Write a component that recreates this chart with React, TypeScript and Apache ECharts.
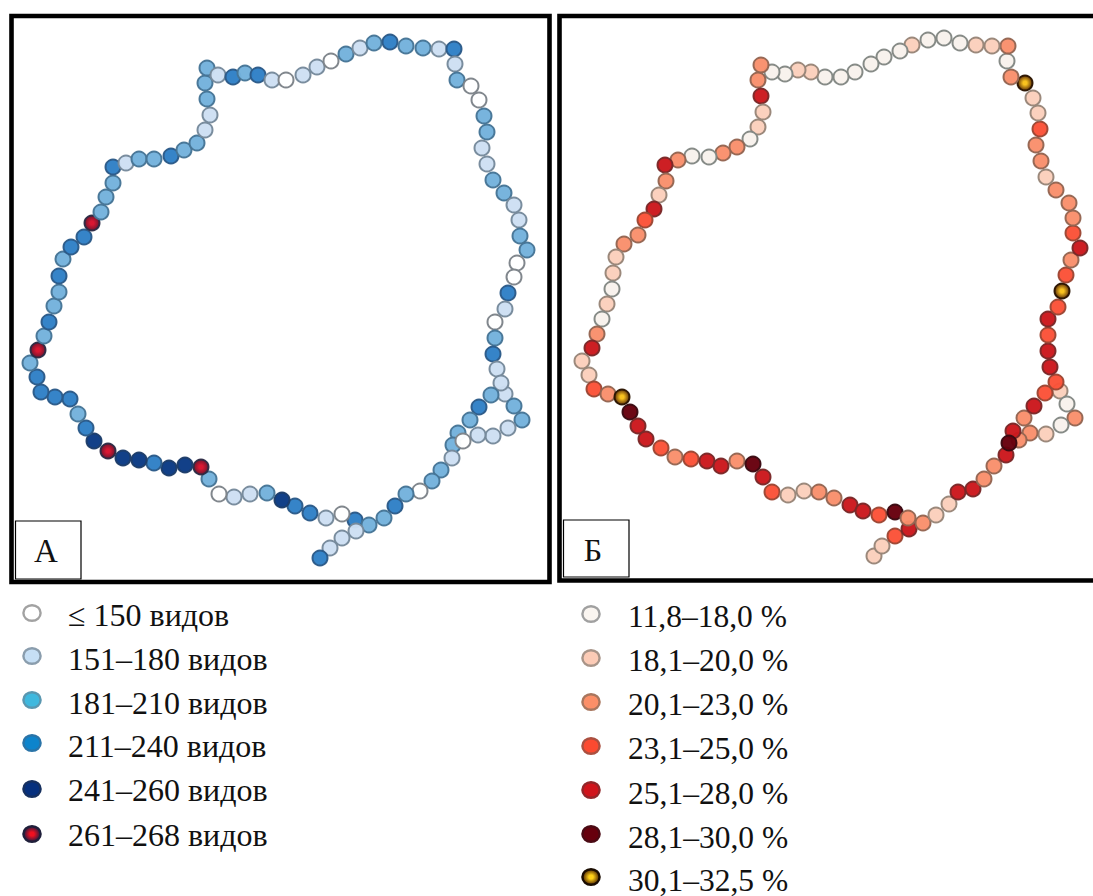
import React, { useEffect, useRef } from "react";
import * as echarts from "echarts";

const speciesLabels = ["≤ 150 видов", "151–180 видов", "181–210 видов", "211–240 видов", "241–260 видов", "261–268 видов"];
const shareLabels = ["11,8–18,0 %", "18,1–20,0 %", "20,1–23,0 %", "23,1–25,0 %", "25,1–28,0 %", "28,1–30,0 %", "30,1–32,5 %"];

const speciesPoints: number[][] = [
  [355,520,3],[342,514,0],[326,518,1],[310,513,3],[295,506,3],[282,500,4],[267,493,2],[250,494,1],[234,497,1],[219,494,0],
  [209,479,2],[201,467,5],[185,465,4],[169,468,4],[154,463,3],[139,460,4],[123,458,4],[108,451,5],[94,441,4],[86,428,3],
  [78,414,2],[70,399,3],[55,397,3],[41,392,3],[37,377,3],[30,363,2],[38,350,5],[44,336,2],[49,322,3],[54,306,2],
  [59,292,2],[59,276,3],[63,259,2],[71,247,3],[84,237,3],[92,223,5],[101,212,2],[106,197,2],[113,183,2],[113,167,3],
  [126,163,1],[139,159,2],[154,159,2],[171,156,3],[184,150,2],[197,143,2],[205,130,1],[210,115,1],[207,99,2],[205,83,2],
  [207,68,2],[218,75,1],[233,77,3],[245,73,2],[258,75,3],[272,80,1],[286,80,0],[303,75,1],[317,67,1],[331,61,0],
  [346,54,2],[360,48,1],[374,43,2],[390,42,3],[406,46,2],[423,48,2],[439,49,1],[454,49,3],[455,64,1],[457,80,2],
  [471,86,0],[479,100,0],[484,116,2],[487,132,2],[482,148,1],[487,164,1],[493,180,2],[504,193,2],[514,205,1],[519,220,1],
  [520,236,2],[527,250,2],[517,263,0],[514,277,0],[508,293,3],[505,309,1],[495,322,0],[495,338,2],[493,354,3],[497,369,1],
  [505,394,1],[514,406,2],[522,420,2],[508,428,1],[493,436,1],[478,435,1],[501,383,1],[491,395,2],[479,407,3],[470,420,2],
  [458,433,2],[453,445,2],[463,441,0],[452,458,1],[441,470,2],[432,481,2],[420,491,0],[406,494,2],[395,506,3],[384,518,2],
  [369,525,2],[356,531,1],[342,538,1],[330,548,1],[320,558,3],
];

const sharePoints: number[][] = [
  [1060,391,1],[1067,404,0],[1075,418,2],[1061,425,0],[1046,434,1],[1030,433,2],[1019,440,2],
  [874,556,1],[882,546,1],[895,536,3],[909,529,4],[923,523,2],[936,515,1],[949,504,1],[958,492,4],[973,489,4],
  [984,479,2],[994,466,2],[1006,455,4],[1013,431,4],[1009,443,5],[1024,418,2],[1034,406,4],[1045,393,3],[1056,382,3],[1050,367,4],
  [1048,351,4],[1048,335,3],[1048,319,4],[1058,307,3],[1062,291,6],[1066,275,3],[1071,260,2],[1080,248,4],[1073,233,3],[1073,218,2],
  [1069,203,2],[1056,190,2],[1046,177,1],[1041,161,2],[1036,145,2],[1040,129,3],[1038,113,1],[1033,98,1],[1025,83,6],[1011,77,2],
  [1007,61,0],[1008,46,2],[992,46,1],[976,45,1],[960,43,0],[944,38,0],[928,40,0],[912,45,1],[900,51,0],[884,57,0],
  [871,64,0],[855,72,0],[841,77,0],[825,77,0],[811,72,1],[798,70,1],[785,74,0],[772,72,0],[761,65,2],[758,80,2],
  [761,96,4],[763,112,1],[758,127,1],[750,139,0],[737,147,2],[723,153,2],[709,157,0],[692,156,0],[678,160,2],[665,165,4],
  [666,181,2],[659,195,1],[654,209,4],[645,220,3],[638,235,2],[624,244,2],[616,257,1],[613,273,1],[612,289,0],[607,304,1],
  [602,319,0],[597,334,2],[592,348,4],[582,361,1],[589,375,1],[594,389,3],[608,394,2],[622,397,6],[630,412,5],[638,426,4],
  [646,439,4],[661,448,3],[675,457,2],[691,459,3],[707,461,4],[721,466,4],[737,461,2],[753,464,5],[763,477,4],[772,492,3],
  [788,495,1],[804,491,1],[819,492,2],[834,498,2],[850,505,4],[863,511,4],[879,515,3],[895,512,5],[908,518,2],
];

const radial = (inner: string, outer: string): any => ({
  type: "radial", x: 0.5, y: 0.5, r: 0.5,
  colorStops: [{ offset: 0, color: inner }, { offset: 0.25, color: inner }, { offset: 1, color: outer }],
});

const blueFill: any[] = ["#ffffff", "#cddff3", "#74b2dc", "#2f80c6", "#0a3a84", radial("#d8102c", "#6a0e28")];
const blueEdge = ["#7d8389", "#76899b", "#467596", "#2b5a88", "#1d3d69", "#2c2a44"];
const redFill: any[] = ["#f8f2ec", "#fbd0bc", "#f98f6c", "#fb5238", "#cb181d", "#67000d", radial("#f8c018", "#5a2a00")];
const redEdge = ["#828783", "#988578", "#946552", "#9c4634", "#7a2828", "#3a0a12", "#2a1400"];

const legendBlueFill: any[] = ["#ffffff", "#c6dff5", "#3fb8de", "#0d84cc", "#06307e", radial("#f01020", "#241a40")];
const legendBlueEdge = ["#a2a2a2", "#8a9dad", "#5a97b0", "#2a74a8", "#16305f", "#1f1f3a"];
const legendRedFill: any[] = ["#faf5f0", "#fccbb6", "#fb8f68", "#fb4a30", "#d0141c", "#67000d", radial("#ffd018", "#4a2000")];
const legendRedEdge = ["#a0a0a0", "#a89488", "#a8765e", "#aa5040", "#92262a", "#4a0a14", "#1a0c00"];

const speciesMarkY = [613, 656, 700, 743, 789, 834];
const speciesTextY = [615, 659, 703, 746, 790, 835];
const shareMarkY = [614, 658, 702, 746, 790, 834, 877];
const shareTextY = [616, 660, 704, 748, 793, 837, 880];

const serif = '"Liberation Serif", "Times New Roman", serif';

function pts(points: number[][], fills: any[], edges: string[]) {
  return points.map(([x, y, c]) => ({
    value: [x, y],
    itemStyle: { color: fills[c], borderColor: edges[c], borderWidth: 2, opacity: 0.97 },
  }));
}

function legend(labels: string[], size: number, markX: number, textX: number, markY: number[], textY: number[], fills: any[], edges: string[]) {
  const out: any[] = [];
  labels.forEach((label, i) => {
    out.push({
      type: "ellipse", silent: true, z: 5,
      shape: { cx: markX, cy: markY[i], rx: 8.6, ry: 7.8 },
      style: { fill: fills[i], stroke: edges[i], lineWidth: 2.4 },
    });
    out.push({
      type: "text", silent: true, z: 5, x: textX, y: textY[i],
      style: { text: label, font: `${size}px ${serif}`, fill: "#111", verticalAlign: "middle", align: "left" },
    });
  });
  return out;
}

const frames: any[] = [
  { type: "rect", silent: true, z: 1, shape: { x: 11.5, y: 16, width: 538, height: 566 }, style: { fill: "none", stroke: "#000", lineWidth: 4.6 } },
  { type: "rect", silent: true, z: 1, shape: { x: 559.5, y: 16, width: 600, height: 564.5 }, style: { fill: "none", stroke: "#000", lineWidth: 4.6 } },
  { type: "rect", silent: true, z: 20, shape: { x: 15.5, y: 521, width: 65.5, height: 58 }, style: { fill: "#fff", stroke: "#000", lineWidth: 1.2 } },
  { type: "rect", silent: true, z: 20, shape: { x: 563.5, y: 520, width: 65.5, height: 57 }, style: { fill: "#fff", stroke: "#000", lineWidth: 1.2 } },
  { type: "text", silent: true, z: 21, x: 46, y: 551, style: { text: "А", font: `33px ${serif}`, fill: "#111", align: "center", verticalAlign: "middle" } },
  { type: "text", silent: true, z: 21, x: 593, y: 550, style: { text: "Б", font: `32px ${serif}`, fill: "#111", align: "center", verticalAlign: "middle" } },
];

export default function App() {
  const ref = useRef<HTMLDivElement>(null);
  useEffect(() => {
    document.body.style.margin = "0";
    const chart = echarts.init(ref.current!, null, { renderer: "svg" });
    chart.setOption({
      animation: false,
      backgroundColor: "#fff",
      grid: { left: 0, right: 0, top: 0, bottom: 0 },
      xAxis: { type: "value", min: 0, max: 1093, show: false },
      yAxis: { type: "value", min: 0, max: 896, inverse: true, show: false },
      series: [
        { type: "scatter", name: "А", symbol: "circle", symbolSize: 15, z: 3, silent: true, data: pts(speciesPoints, blueFill, blueEdge) },
        { type: "scatter", name: "Б", symbol: "circle", symbolSize: 15, z: 3, silent: true, data: pts(sharePoints, redFill, redEdge) },
      ],
      graphic: [
        ...frames,
        ...legend(speciesLabels, 32, 32, 68, speciesMarkY, speciesTextY, legendBlueFill, legendBlueEdge),
        ...legend(shareLabels, 31.5, 591, 628, shareMarkY, shareTextY, legendRedFill, legendRedEdge),
      ],
    });
    return () => chart.dispose();
  }, []);
  return <div ref={ref} style={{ position: "absolute", left: 0, top: 0, width: 1093, height: 896, overflow: "hidden" }} />;
}
